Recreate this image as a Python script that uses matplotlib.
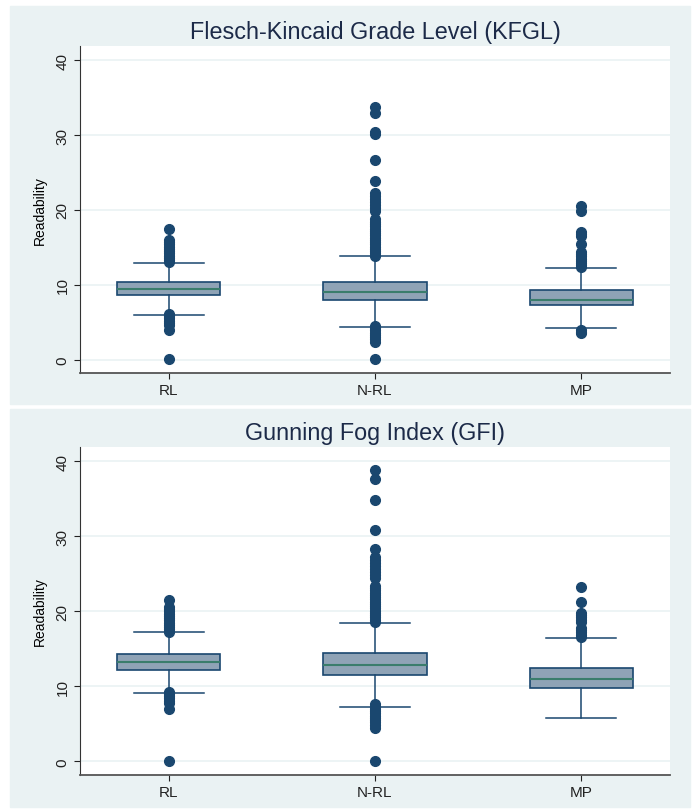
import matplotlib.pyplot as plt
from matplotlib.patches import Rectangle

plt.rcParams['font.family'] = ['Liberation Sans', 'DejaVu Sans']

groups = ["RL", "N-RL", "MP"]

# Flesch-Kincaid Grade Level: q1, median, q3, whisker low, whisker high
kfgl_q1 = [8.6, 7.9, 7.3]
kfgl_med = [9.4, 9.0, 8.0]
kfgl_q3 = [10.4, 10.3, 9.3]
kfgl_lo = [6.0, 4.3, 4.2]
kfgl_hi = [12.9, 13.8, 12.2]
kfgl_out = [
    [13.0, 13.3, 13.6, 13.9, 14.2, 14.5, 14.8, 15.1, 15.4, 15.7, 16.0, 17.5,
     6.1, 5.8, 5.5, 5.2, 4.9, 4.6, 3.9, 0.1],
    [13.9, 14.2, 14.5, 14.8, 15.1, 15.4, 15.7, 16.0, 16.3, 16.6, 16.9, 17.2,
     17.5, 17.8, 18.1, 18.4, 18.8, 19.9, 20.3, 20.7, 21.1, 21.5, 21.9, 22.3,
     23.8, 26.7, 30.2, 30.4, 33.0, 33.8,
     4.5, 4.2, 3.9, 3.6, 3.3, 3.0, 2.7, 2.4, 0.1],
    [12.3, 12.6, 12.9, 13.2, 13.5, 13.8, 14.1, 14.4, 15.5, 16.5, 16.8, 17.1,
     19.9, 20.5, 4.0, 3.7, 3.5],
]

# Gunning Fog Index
gfi_q1 = [12.2, 11.5, 9.8]
gfi_med = [13.2, 12.9, 11.0]
gfi_q3 = [14.3, 14.4, 12.5]
gfi_lo = [9.1, 7.3, 5.8]
gfi_hi = [17.2, 18.5, 16.5]
gfi_out = [
    [17.3, 17.6, 17.9, 18.2, 18.5, 18.8, 19.1, 19.4, 19.7, 20.0, 20.3, 20.6,
     21.5, 9.3, 9.0, 8.7, 8.4, 8.1, 7.8, 7.0, 0.1],
    [18.6, 18.9, 19.2, 19.5, 19.8, 20.1, 20.4, 20.7, 21.0, 21.3, 21.6, 21.9,
     22.2, 22.5, 22.8, 23.1, 23.4, 24.5, 24.9, 25.3, 25.7, 26.1, 26.5, 26.9,
     27.3, 28.3, 30.8, 34.8, 37.6, 38.9,
     7.6, 7.3, 7.0, 6.7, 6.4, 6.1, 5.8, 5.5, 5.2, 4.9, 4.5, 0.1],
    [16.6, 16.9, 17.2, 17.5, 17.8, 18.6, 18.9, 19.2, 19.5, 19.8, 21.3, 23.3],
]

W, H = 695, 812
navy = "#1a476f"
fill = "#8fa3b6"
bg = "#eaf2f3"

fig = plt.figure(figsize=(W / 100, H / 100), dpi=100)
fig.patches.append(Rectangle((10 / W, 1 - 405 / H), 680 / W, 398 / H,
                             transform=fig.transFigure, color=bg, zorder=-5))
fig.patches.append(Rectangle((10 / W, 1 - 808 / H), 680 / W, 398 / H,
                             transform=fig.transFigure, color=bg, zorder=-5))


def panel(top, bottom, title_y, title, q1, med, q3, lo, hi, out):
    ax = fig.add_axes([80 / W, 1 - bottom / H, 590 / W, (bottom - top) / H])
    stats = []
    for i in range(len(groups)):
        stats.append(dict(q1=q1[i], med=med[i], q3=q3[i], whislo=lo[i],
                          whishi=hi[i], fliers=out[i], label=groups[i]))
    ax.bxp(stats, positions=[1, 2, 3], widths=0.5, patch_artist=True,
           boxprops=dict(facecolor=fill, edgecolor=navy, linewidth=1.2),
           medianprops=dict(color="#3a7d6c", linewidth=1.5),
           whiskerprops=dict(color=navy, linewidth=1.1),
           capprops=dict(color=navy, linewidth=1.1), capwidths=0.34,
           flierprops=dict(marker="o", markersize=7, markerfacecolor=navy,
                           markeredgecolor=navy))
    ax.set_xlim(0.568, 3.432)
    ax.set_ylim(-1.8, 41.9)
    ax.set_yticks([0, 10, 20, 30, 40])
    ax.set_yticklabels(["0", "10", "20", "30", "40"], rotation=90, va="center")
    ax.tick_params(axis="both", labelsize=11, colors="#222222", length=4)
    ax.grid(axis="y", color=bg, linewidth=1.2)
    ax.set_axisbelow(True)
    for s in ["top", "right"]:
        ax.spines[s].set_visible(False)
    ax.spines["left"].set_color("#333333")
    ax.spines["bottom"].set_color("#555555")
    ax.spines["bottom"].set_linewidth(1.3)
    ax.set_ylabel("Readability", fontsize=10, labelpad=6)
    fig.text((80 + 295) / W, 1 - title_y / H, title, fontsize=16.8,
             color="#1c2a48", ha="center", va="center")
    return ax


panel(47, 374, 32, "Flesch-Kincaid Grade Level (KFGL)",
      kfgl_q1, kfgl_med, kfgl_q3, kfgl_lo, kfgl_hi, kfgl_out)
panel(448, 776, 434, "Gunning Fog Index (GFI)",
      gfi_q1, gfi_med, gfi_q3, gfi_lo, gfi_hi, gfi_out)

fig.savefig("out.png", dpi=100, facecolor="white")
